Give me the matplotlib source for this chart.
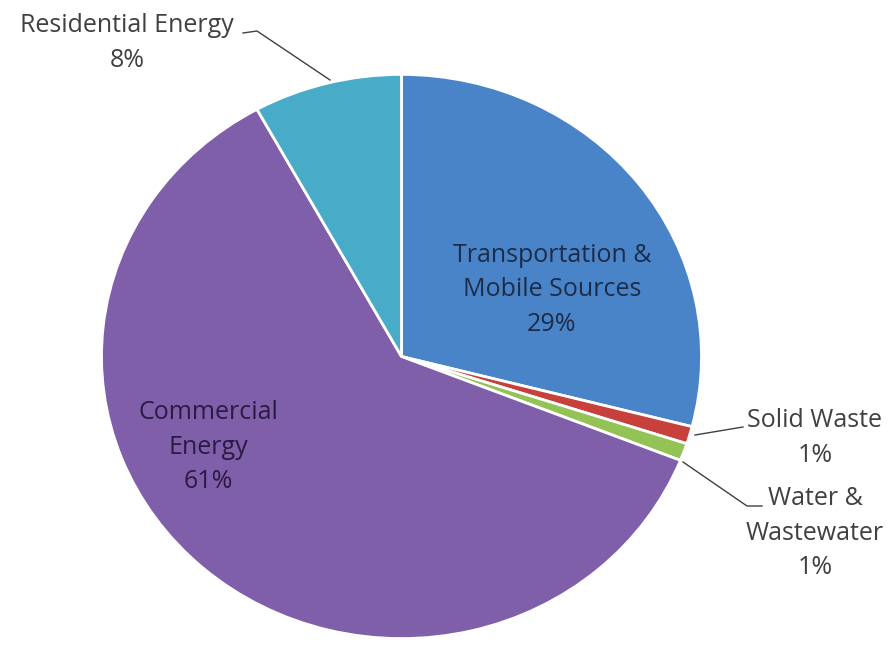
import matplotlib
matplotlib.use("Agg")
import matplotlib.pyplot as plt
from matplotlib.lines import Line2D

# emission shares by sector (percent), clockwise from 12 o'clock
sectors = ["Transportation &\nMobile Sources", "Solid Waste", "Water &\nWastewater",
           "Commercial\nEnergy", "Residential Energy"]
shares = [29, 1, 1, 61, 8]
colors = ["#4a84c8", "#c8403c", "#93c255", "#7f5fa9", "#48abc8"]

W, H = 895, 645
plt.rcParams["font.family"] = ["Open Sans", "DejaVu Sans"]

fig = plt.figure(figsize=(W / 100, H / 100), dpi=100)
fig.patch.set_facecolor("white")

# pie box in pixels (the original is slightly stretched sideways)
left, top, right, bottom = 100, 73, 703, 640
ax = fig.add_axes([left / W, 1 - bottom / H, (right - left) / W, (bottom - top) / H])
ax.pie(shares, colors=colors, startangle=90, counterclock=False, radius=1,
       wedgeprops=dict(edgecolor="white", linewidth=2))
ax.set_aspect("auto")
ax.set_xlim(-1.005, 1.005)
ax.set_ylim(-1.005, 1.005)
ax.axis("off")


def px(x, y):
    return x / W, 1 - y / H


def label(i, x, y, color, ha="center"):
    fx, fy = px(x, y)
    fig.text(fx, fy, f"{sectors[i]}\n{shares[i]}%", ha=ha, va="center",
             fontsize=18, color=color, linespacing=1.5)


label(0, 552, 290, "#1d2c48")
label(3, 208, 447, "#2a1b42")
label(4, 127, 43, "#404040")
label(1, 815, 438, "#404040")
label(2, 815, 533, "#404040")


def leader(points):
    xs, ys = zip(*[px(x, y) for x, y in points])
    fig.add_artist(Line2D(xs, ys, transform=fig.transFigure, color="#404040", lw=1))


leader([(243, 33), (257, 31), (330, 80)])
leader([(695, 435), (743, 427)])
leader([(683, 462), (747, 506), (762, 506)])

fig.savefig("out.png", dpi=100)
